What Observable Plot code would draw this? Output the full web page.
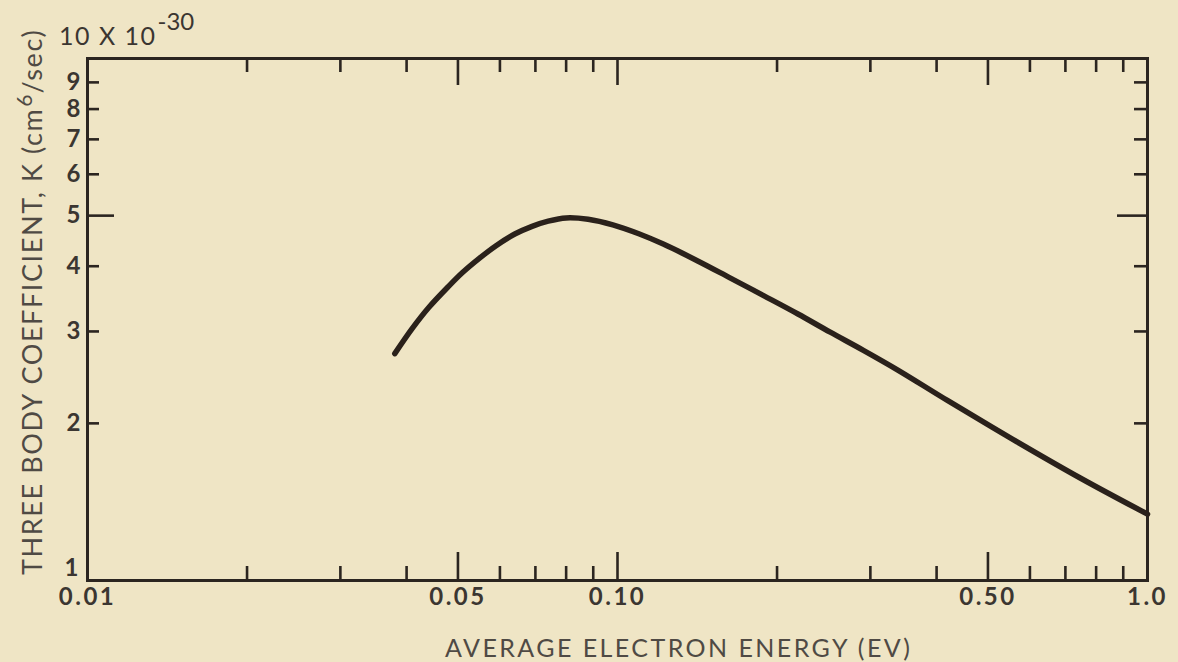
<!DOCTYPE html>
<html>
<head>
<meta charset="utf-8">
<script src="https://cdn.jsdelivr.net/npm/d3@7"></script>
<script src="https://cdn.jsdelivr.net/npm/@observablehq/plot@0.6"></script>
<style>
html, body { margin: 0; padding: 0; background: #efe5c5; }
svg { display: block; }
</style>
</head>
<body>
<div id="chart"></div>
<script>
// ---- data ----
const energy = [0.038, 0.041, 0.044, 0.048, 0.051, 0.055, 0.059, 0.064, 0.069, 0.074, 0.080, 0.088, 0.098, 0.110, 0.122, 0.142, 0.163, 0.189, 0.219, 0.252, 0.291, 0.338, 0.420, 0.559, 0.748, 1.0];
const coeff  = [2.72, 3.04, 3.33, 3.66, 3.89, 4.15, 4.38, 4.61, 4.77, 4.88, 4.95, 4.92, 4.80, 4.61, 4.41, 4.09, 3.80, 3.51, 3.24, 2.99, 2.76, 2.53, 2.21, 1.86, 1.57, 1.34];

const xMinorTicks = [0.02, 0.03, 0.04, 0.06, 0.07, 0.08, 0.09, 0.2, 0.3, 0.4, 0.6, 0.7, 0.8, 0.9];
const xMajorTicks = [0.05, 0.1, 0.5];
const xLabelValues = [0.01, 0.05, 0.1, 0.5, 1.0];
const xLabelText = ["0.01", "0.05", "0.10", "0.50", "1.0"];

const yMinorTicks = [2, 3, 4, 6, 7, 8, 9];
const yMajorTicks = [5];
const yLabelValues = [1, 2, 3, 4, 5, 6, 7, 8, 9];
const yLabelText = ["1", "2", "3", "4", "5", "6", "7", "8", "9"];

const xTitle = "AVERAGE ELECTRON ENERGY (EV)";
const yTitleParts = ["THREE BODY COEFFICIENT, K (cm", "6", "/sec)"];
const yTopLabelParts = ["10 X 10", "-30"];

// ---- styles ----
const ink = "#2b2520";
const curveInk = "#2a211b";
const labelInk = "#3b3631";
const titleInk = "#4f4a44";
const font = "Lato, 'Open Sans', 'DejaVu Sans', sans-serif";

const curveData = energy.map((e, i) => ({e, k: coeff[i]}));
const tickStyle = {stroke: ink, strokeWidth: 2.6};

const plot = Plot.plot({
  width: 1178,
  height: 662,
  marginLeft: 87,
  marginRight: 31,
  marginTop: 58,
  marginBottom: 82,
  x: {type: "log", domain: [0.01, 1], axis: null},
  y: {type: "log", domain: [1, 10], axis: null},
  style: {background: "#efe5c5", fontFamily: font, overflow: "visible"},
  marks: [
    // bottom ticks (inward)
    Plot.ruleX(xMinorTicks, {x: d => d, y1: 1, y2: 1, insetTop: -14, ...tickStyle}),
    Plot.ruleX(xMajorTicks, {x: d => d, y1: 1, y2: 1, insetTop: -28, ...tickStyle}),
    // top ticks (inward)
    Plot.ruleX(xMinorTicks, {x: d => d, y1: 10, y2: 10, insetBottom: -14, ...tickStyle}),
    Plot.ruleX(xMajorTicks, {x: d => d, y1: 10, y2: 10, insetBottom: -27, ...tickStyle}),
    // left ticks
    Plot.ruleY(yMinorTicks, {y: d => d, x1: 0.01, x2: 0.01, insetRight: -12, ...tickStyle}),
    Plot.ruleY(yMajorTicks, {y: d => d, x1: 0.01, x2: 0.01, insetRight: -27, ...tickStyle}),
    // right ticks
    Plot.ruleY(yMinorTicks, {y: d => d, x1: 1, x2: 1, insetLeft: -13, ...tickStyle}),
    Plot.ruleY(yMajorTicks, {y: d => d, x1: 1, x2: 1, insetLeft: -30, ...tickStyle}),
    Plot.frame({stroke: ink, strokeWidth: 3}),
    Plot.line(curveData, {x: "e", y: "k", curve: "catmull-rom", stroke: curveInk, strokeWidth: 5.5, strokeLinecap: "round", strokeLinejoin: "round"}),
    // x tick labels
    Plot.text(xLabelValues, {x: d => d, text: (d, i) => xLabelText[i], frameAnchor: "bottom", dy: 24, fontSize: 24, fill: labelInk, fontWeight: "bold"}),
    // y tick labels
    Plot.text(yLabelValues.slice(1), {y: d => d, text: (d, i) => yLabelText[i + 1], frameAnchor: "left", dx: -7, textAnchor: "end", fontSize: 24, fill: labelInk, fontWeight: "bold"}),
    Plot.text(yLabelValues.slice(0, 1), {y: d => d, text: (d, i) => yLabelText[i], frameAnchor: "left", dx: -9, dy: -12, textAnchor: "end", fontSize: 24, fill: labelInk, fontWeight: "bold"})
  ]
});

// widen the x tick labels a little, like the reference lettering
d3.select(plot).selectAll("text").filter(function () { return /^0\.|^1\.0$/.test(this.textContent); })
  .attr("letter-spacing", 2.5);

const svg = d3.select(plot);
const yScale = plot.scale("y");
const yTop = yScale.apply(10);

// "10 X 10^-30" above the y axis
const topLbl = svg.append("text")
  .attr("font-family", font)
  .attr("text-anchor", "start")
  .attr("fill", labelInk)
  .attr("font-size", 25)
  .attr("x", 59)
  .attr("y", yTop - 13);
topLbl.append("tspan").attr("letter-spacing", 1.5).text(yTopLabelParts[0]);
topLbl.append("tspan").attr("font-size", 24).attr("dy", -15).attr("dx", 1).text(yTopLabelParts[1]);

// x-axis title
svg.append("text")
  .attr("font-family", font)
  .attr("text-anchor", "start")
  .attr("fill", titleInk)
  .attr("font-size", 25)
  .attr("x", 445)
  .attr("y", 657)
  .attr("textLength", 465)
  .attr("lengthAdjust", "spacing")
  .text(xTitle);

// y-axis title (rotated)
const yT = svg.append("text")
  .attr("font-family", font)
  .attr("text-anchor", "start")
  .attr("fill", titleInk)
  .attr("font-size", 27)
  .attr("transform", "translate(42,575) rotate(-90)")
  .attr("x", 0)
  .attr("y", 0);
yT.append("tspan").attr("letter-spacing", 1.6).text(yTitleParts[0]);
yT.append("tspan").attr("font-size", 21).attr("dy", -10).attr("dx", 1).text(yTitleParts[1]);
yT.append("tspan").attr("dy", 10).attr("dx", 1).attr("letter-spacing", 1.6).text(yTitleParts[2]);

document.getElementById("chart").appendChild(plot);
</script>
</body>
</html>
